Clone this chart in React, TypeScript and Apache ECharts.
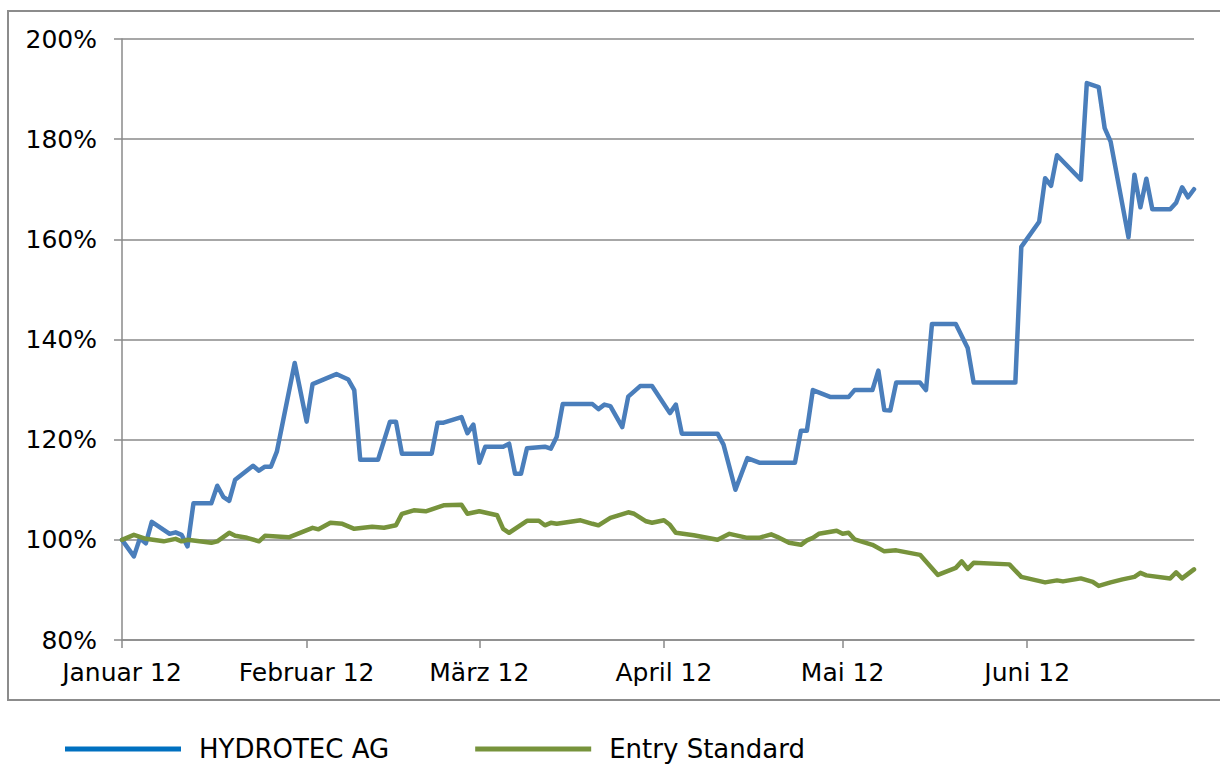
import React, { useEffect, useRef } from "react";
import * as echarts from "echarts";

const monthLabels = ["Januar 12", "Februar 12", "März 12", "April 12", "Mai 12", "Juni 12"];

const hydroDates = [
  "2012-01-01", "2012-01-03", "2012-01-04", "2012-01-05", "2012-01-06", "2012-01-09", "2012-01-10",
  "2012-01-11", "2012-01-12", "2012-01-13", "2012-01-16", "2012-01-17", "2012-01-18", "2012-01-19",
  "2012-01-20", "2012-01-23", "2012-01-24", "2012-01-25", "2012-01-26", "2012-01-27", "2012-01-30",
  "2012-02-01", "2012-02-02", "2012-02-06", "2012-02-08", "2012-02-09", "2012-02-10", "2012-02-13",
  "2012-02-15", "2012-02-16", "2012-02-17", "2012-02-22", "2012-02-23", "2012-02-24", "2012-02-27",
  "2012-02-28", "2012-02-29", "2012-03-01", "2012-03-02", "2012-03-05", "2012-03-06", "2012-03-07",
  "2012-03-08", "2012-03-09", "2012-03-12", "2012-03-13", "2012-03-14", "2012-03-15", "2012-03-20",
  "2012-03-21", "2012-03-22", "2012-03-23", "2012-03-25", "2012-03-26", "2012-03-28", "2012-03-30",
  "2012-04-02", "2012-04-03", "2012-04-04", "2012-04-10", "2012-04-11", "2012-04-13", "2012-04-15",
  "2012-04-17", "2012-04-23", "2012-04-24", "2012-04-25", "2012-04-26", "2012-04-29", "2012-05-02",
  "2012-05-03", "2012-05-06", "2012-05-07", "2012-05-08", "2012-05-09", "2012-05-10", "2012-05-14",
  "2012-05-15", "2012-05-16", "2012-05-20", "2012-05-22", "2012-05-23", "2012-05-30", "2012-05-31",
  "2012-06-03", "2012-06-04", "2012-06-05", "2012-06-06", "2012-06-10", "2012-06-11", "2012-06-13",
  "2012-06-14", "2012-06-15", "2012-06-18", "2012-06-19", "2012-06-20", "2012-06-21", "2012-06-22",
  "2012-06-25", "2012-06-26", "2012-06-27", "2012-06-28", "2012-06-29",
];
const hydroValues = [
  100, 96.7, 100.3, 99.3, 103.6, 101.2, 101.5,
  101, 98.7, 107.3, 107.3, 110.8, 108.6, 107.8,
  112, 114.8, 113.8, 114.6, 114.6, 117.6, 135.3,
  123.6, 131.1, 133.1, 132, 129.9, 116, 116,
  123.6, 123.6, 117.2, 117.2, 123.4, 123.4, 124.5,
  121.3, 123, 115.4, 118.6, 118.6, 119.2, 113.2,
  113.2, 118.3, 118.6, 118.2, 120.6, 127.1, 127.1,
  126.1, 127, 126.7, 122.5, 128.6, 130.7, 130.7,
  125.3, 127, 121.2, 121.2, 119, 110, 116.3,
  115.4, 115.4, 121.8, 121.8, 129.9, 128.5, 128.5,
  129.9, 129.9, 133.8, 125.9, 125.8, 131.4, 131.4,
  129.9, 143.1, 143.1, 138.3, 131.4, 131.4, 158.5,
  163.5, 172.2, 170.7, 176.8, 171.9, 191.2, 190.4,
  182.2, 179.5, 160.4, 172.9, 166.4, 172.1, 166,
  166, 167.3, 170.4, 168.4, 170,
];

const entryDates = [
  "2012-01-01", "2012-01-03", "2012-01-05", "2012-01-08", "2012-01-10", "2012-01-11", "2012-01-12",
  "2012-01-16", "2012-01-17", "2012-01-19", "2012-01-20", "2012-01-22", "2012-01-24", "2012-01-25",
  "2012-01-29", "2012-02-02", "2012-02-03", "2012-02-05", "2012-02-07", "2012-02-09", "2012-02-12",
  "2012-02-14", "2012-02-16", "2012-02-17", "2012-02-19", "2012-02-21", "2012-02-22", "2012-02-24",
  "2012-02-27", "2012-02-28", "2012-03-01", "2012-03-04", "2012-03-05", "2012-03-06", "2012-03-09",
  "2012-03-11", "2012-03-12", "2012-03-13", "2012-03-14", "2012-03-18", "2012-03-20", "2012-03-21",
  "2012-03-23", "2012-03-26", "2012-03-27", "2012-03-29", "2012-03-30", "2012-04-01", "2012-04-02",
  "2012-04-03", "2012-04-06", "2012-04-10", "2012-04-12", "2012-04-15", "2012-04-17", "2012-04-19",
  "2012-04-20", "2012-04-22", "2012-04-24", "2012-04-25", "2012-04-26", "2012-04-27", "2012-04-30",
  "2012-05-01", "2012-05-02", "2012-05-03", "2012-05-06", "2012-05-08", "2012-05-10", "2012-05-14",
  "2012-05-17", "2012-05-20", "2012-05-21", "2012-05-22", "2012-05-23", "2012-05-29", "2012-05-31",
  "2012-06-04", "2012-06-06", "2012-06-07", "2012-06-10", "2012-06-12", "2012-06-13", "2012-06-15",
  "2012-06-17", "2012-06-19", "2012-06-20", "2012-06-21", "2012-06-25", "2012-06-26", "2012-06-27",
  "2012-06-29",
];
const entryValues = [
  100, 101, 100.2, 99.7, 100.2, 99.7, 100,
  99.4, 99.7, 101.4, 100.8, 100.4, 99.7, 100.8,
  100.5, 102.4, 102.1, 103.4, 103.2, 102.2, 102.6,
  102.4, 102.9, 105.2, 105.9, 105.7, 106.1, 106.9,
  107, 105.2, 105.7, 104.9, 102.2, 101.4, 103.8,
  103.8, 102.9, 103.4, 103.2, 103.9, 103.2, 102.9,
  104.4, 105.5, 105.2, 103.7, 103.4, 103.9, 103,
  101.4, 100.9, 100, 101.2, 100.4, 100.4, 101.1,
  100.6, 99.4, 99, 99.9, 100.4, 101.2, 101.8,
  101.2, 101.4, 100.1, 99, 97.7, 97.9, 97,
  93, 94.4, 95.7, 94.2, 95.4, 95.1, 92.6,
  91.5, 91.9, 91.7, 92.3, 91.6, 90.8, 91.5,
  92.1, 92.6, 93.4, 92.9, 92.3, 93.5, 92.3,
  94.1,
];

const seriesNames = ["HYDROTEC AG", "Entry Standard"];
const axisStart = "2012-01-01";
const axisEnd = "2012-06-29";
const yTicks = { min: 80, max: 200, interval: 20 };

const DAY = 86400000;
function toTime(s: string): number {
  const [y, m, d] = s.split("-").map(Number);
  return new Date(y, m - 1, d).getTime();
}

export default function App() {
  const ref = useRef<HTMLDivElement>(null);
  useEffect(() => {
    if (!ref.current) return;
    const chart = echarts.init(ref.current, null, { renderer: "svg" });
    const font = "DejaVu Sans";
    const gridColor = "#8a8a8a";
    chart.setOption({
      animation: false,
      backgroundColor: "#ffffff",
      graphic: [
        {
          type: "rect",
          silent: true,
          z: -1,
          shape: { x: 8, y: 11, width: 1240, height: 689 },
          style: { fill: "none", stroke: "#8c8c8c", lineWidth: 2 },
        },
      ],
      grid: { left: 122, right: 26, top: 39, bottom: 124, outerBoundsMode: "none" },
      xAxis: {
        type: "time",
        min: toTime(axisStart),
        max: toTime(axisEnd),
        minInterval: 28 * DAY,
        maxInterval: 31 * DAY,
        splitLine: { show: false },
        axisLine: { lineStyle: { color: gridColor, width: 1.5 } },
        axisTick: { show: true, length: 8, lineStyle: { color: gridColor, width: 1.5 } },
        axisLabel: {
          color: "#000",
          fontFamily: font,
          fontSize: 25,
          margin: 20,
          showMaxLabel: false,
          hideOverlap: false,
          formatter: (v: number) => monthLabels[new Date(v).getMonth()] ?? "",
        },
      },
      yAxis: {
        type: "value",
        min: yTicks.min,
        max: yTicks.max,
        interval: yTicks.interval,
        axisLine: { show: true, lineStyle: { color: gridColor, width: 1.5 } },
        axisTick: { show: true, length: 8, lineStyle: { color: gridColor, width: 1.5 } },
        splitLine: { lineStyle: { color: gridColor, width: 1.5 } },
        axisLabel: {
          color: "#000",
          fontFamily: font,
          fontSize: 25,
          margin: 25,
          formatter: "{value}%",
        },
      },
      legend: {
        left: 60,
        top: 731,
        itemWidth: 116,
        itemHeight: 5,
        itemGap: 86,
        icon: "rect",
        textStyle: { fontFamily: font, fontSize: 26, color: "#000", padding: [0, 0, 0, 13] },
        data: [
          { name: seriesNames[0], itemStyle: { color: "#0070C0" } },
          { name: seriesNames[1], itemStyle: { color: "#77933C" } },
        ],
      },
      series: [
        {
          name: seriesNames[0],
          type: "line",
          showSymbol: false,
          symbol: "none",
          lineStyle: { color: "#4A7EBB", width: 4.5, join: "round", cap: "round" },
          itemStyle: { color: "#4A7EBB" },
          data: hydroDates.map((d, i) => [toTime(d), hydroValues[i]]),
        },
        {
          name: seriesNames[1],
          type: "line",
          showSymbol: false,
          symbol: "none",
          lineStyle: { color: "#77933C", width: 4.5, join: "round", cap: "round" },
          itemStyle: { color: "#77933C" },
          data: entryDates.map((d, i) => [toTime(d), entryValues[i]]),
        },
      ],
    });
    return () => chart.dispose();
  }, []);
  return (
    <div
      ref={ref}
      style={{ position: "absolute", left: 0, top: 0, width: 1220, height: 764, background: "#fff" }}
    />
  );
}
